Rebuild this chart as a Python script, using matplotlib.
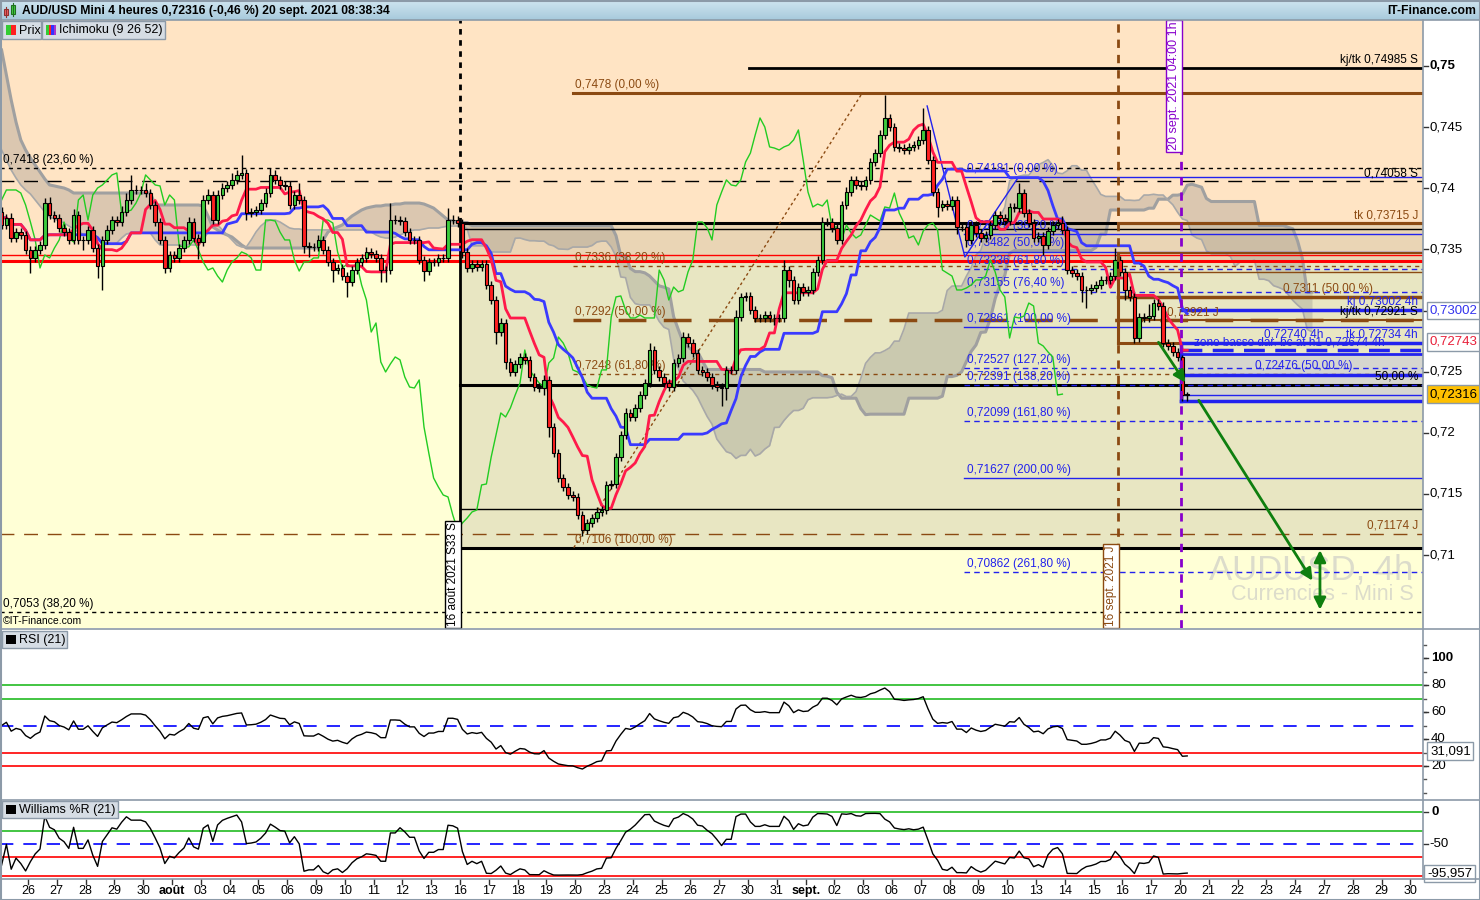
import numpy as np
import pandas as pd
import matplotlib
matplotlib.use("Agg")
import matplotlib.pyplot as plt
from matplotlib.patches import Rectangle
import matplotlib.transforms as mtransforms

plt.rcParams['font.family'] = ['Liberation Sans', 'DejaVu Sans']

# ======================= DATA =======================
# AUD/USD Mini, 4h candles (6 per session) from Fri 23 Jul 2021 to Mon 20 Sep 2021 04:00
first_open = 0.73806
close = [
    0.73700, 0.73757, 0.73593, 0.73642, 0.73618, 0.73495,   # 23 jul
    0.73430, 0.73495, 0.73536, 0.73879, 0.73781, 0.73757,   # 26
    0.73675, 0.73642, 0.73577, 0.73781, 0.73577, 0.73577,   # 27
    0.73659, 0.73511, 0.73364, 0.73577, 0.73659, 0.73740,   # 28
    0.73724, 0.73806, 0.73904, 0.73986, 0.73986, 0.73986,   # 29
    0.73961, 0.73863, 0.73724, 0.73577, 0.73348, 0.73454,   # 30
    0.73430, 0.73511, 0.73577, 0.73724, 0.73593, 0.73560,   # 02 aug
    0.73904, 0.73945, 0.73740, 0.73945, 0.74002, 0.74027,   # 03
    0.74068, 0.74109, 0.74125, 0.73798, 0.73806, 0.73822,   # 04
    0.73879, 0.73961, 0.74109, 0.74068, 0.74027, 0.74019,   # 05
    0.73863, 0.73945, 0.73904, 0.73528, 0.73520, 0.73520,   # 06
    0.73577, 0.73495, 0.73397, 0.73331, 0.73348, 0.73282,   # 09
    0.73233, 0.73331, 0.73397, 0.73430, 0.73479, 0.73462,   # 10
    0.73430, 0.73331, 0.73331, 0.73740, 0.73740, 0.73732,   # 11
    0.73642, 0.73577, 0.73577, 0.73413, 0.73323, 0.73397,   # 12
    0.73397, 0.73430, 0.73430, 0.73740, 0.73740, 0.73716,   # 13
    0.73479, 0.73348, 0.73380, 0.73356, 0.73380, 0.73209,   # 16
    0.73086, 0.72824, 0.72898, 0.72579, 0.72497, 0.72563,   # 17
    0.72620, 0.72596, 0.72456, 0.72374, 0.72366, 0.72432,   # 18
    0.72047, 0.71834, 0.71630, 0.71556, 0.71491, 0.71475,   # 19
    0.71327, 0.71205, 0.71262, 0.71303, 0.71352, 0.71368,   # 20
    0.71573, 0.71581, 0.71802, 0.71982, 0.72162, 0.72129,   # 23
    0.72203, 0.72309, 0.72407, 0.72677, 0.72514, 0.72456,   # 24
    0.72407, 0.72374, 0.72571, 0.72612, 0.72783, 0.72734,   # 25
    0.72653, 0.72514, 0.72497, 0.72456, 0.72391, 0.72374,   # 26
    0.72366, 0.72514, 0.72514, 0.72947, 0.73111, 0.73119,   # 27
    0.73004, 0.72939, 0.72939, 0.72963, 0.72939, 0.72939,   # 30
    0.72939, 0.73331, 0.73250, 0.73086, 0.73192, 0.73152,   # 31
    0.73168, 0.73315, 0.73413, 0.73724, 0.73724, 0.73675,   # 01 sep
    0.73577, 0.73863, 0.73969, 0.74068, 0.74027, 0.74019,   # 02
    0.74068, 0.74215, 0.74288, 0.74436, 0.74575, 0.74501,   # 03
    0.74338, 0.74329, 0.74313, 0.74338, 0.74354, 0.74395,   # 06
    0.74477, 0.74231, 0.73969, 0.73847, 0.73871, 0.73855,   # 07
    0.73904, 0.73683, 0.73683, 0.73577, 0.73700, 0.73634,   # 08
    0.73593, 0.73618, 0.73700, 0.73781, 0.73757, 0.73732,   # 09
    0.73847, 0.73838, 0.73961, 0.73798, 0.73716, 0.73593,   # 10
    0.73610, 0.73536, 0.73650, 0.73700, 0.73716, 0.73659,   # 13
    0.73331, 0.73307, 0.73282, 0.73168, 0.73168, 0.73184,   # 14
    0.73209, 0.73250, 0.73250, 0.73282, 0.73413, 0.73315,   # 15
    0.73168, 0.73111, 0.72775, 0.72947, 0.72939, 0.72955,   # 16
    0.73061, 0.73037, 0.72734, 0.72710, 0.72661, 0.72620,   # 17
    0.72309, 0.72316,                                       # 20
]
# wick lengths above / below the body, in pips (0.0001)
wick_up_pips = [
    4, 3, 4, 3, 3, 3,   3, 3, 3, 4, 5, 3,   3, 3, 3, 5, 3, 3,   3, 3, 3, 3, 4, 3,
    3, 5, 6, 12, 4, 3,  6, 3, 3, 3, 3, 3,   3, 3, 3, 4, 3, 3,   4, 5, 3, 4, 4, 3,
    6, 4, 15, 3, 3, 3,  3, 4, 6, 4, 3, 3,   4, 3, 10, 3, 3, 3,  4, 3, 3, 3, 3, 3,
    3, 3, 3, 3, 4, 3,   3, 3, 3, 14, 4, 3,  3, 3, 3, 3, 3, 3,   3, 3, 3, 10, 4, 3,
    3, 3, 3, 3, 3, 3,   3, 3, 4, 3, 3, 3,   3, 3, 3, 3, 3, 4,   3, 3, 3, 3, 3, 3,
    3, 3, 3, 3, 4, 3,   3, 3, 3, 3, 4, 3,   3, 3, 3, 6, 3, 3,   3, 3, 3, 3, 4, 3,
    3, 3, 3, 3, 3, 3,   3, 3, 3, 6, 3, 3,   3, 3, 3, 3, 3, 3,   3, 8, 3, 3, 3, 3,
    3, 3, 3, 4, 3, 3,   3, 3, 4, 3, 3, 3,   3, 3, 3, 4, 19, 3,  3, 3, 3, 3, 3, 3,
    18, 3, 3, 3, 3, 3,  3, 3, 3, 3, 3, 3,   3, 3, 3, 3, 3, 3,   3, 3, 8, 3, 3, 3,
    3, 3, 3, 3, 3, 6,   3, 3, 3, 3, 3, 3,   3, 3, 3, 3, 10, 3,  3, 3, 3, 3, 3, 10,
    3, 3, 3, 3, 3, 3,   2, 2,
]
wick_dn_pips = [
    3, 3, 3, 3, 3, 3,   12, 3, 3, 3, 3, 3,  3, 3, 3, 3, 3, 8,   3, 3, 10, 20, 3, 3,
    3, 3, 3, 3, 3, 3,   3, 3, 3, 3, 4, 3,   3, 3, 3, 3, 3, 14,  3, 3, 3, 3, 3, 3,
    3, 3, 3, 6, 3, 3,   3, 3, 3, 3, 3, 3,   3, 3, 3, 6, 8, 3,   3, 3, 3, 10, 3, 3,
    12, 3, 3, 3, 3, 3,  3, 10, 10, 3, 3, 3, 3, 3, 3, 3, 8, 3,   3, 3, 3, 3, 3, 3,
    5, 3, 3, 3, 3, 3,   3, 10, 3, 6, 3, 3,  3, 3, 3, 3, 3, 6,   8, 3, 3, 3, 3, 3,
    3, 5, 3, 3, 3, 3,   3, 3, 3, 3, 3, 3,   3, 3, 3, 3, 3, 3,   3, 3, 3, 3, 3, 3,
    3, 3, 3, 3, 3, 3,   15, 10, 3, 3, 3, 3, 3, 3, 3, 3, 3, 6,   3, 3, 6, 3, 3, 3,
    3, 3, 3, 3, 3, 3,   3, 3, 3, 3, 3, 3,   3, 3, 3, 3, 3, 3,   3, 3, 3, 3, 3, 3,
    3, 3, 3, 8, 3, 3,   3, 6, 3, 6, 3, 3,   3, 3, 3, 3, 3, 3,   3, 3, 3, 3, 3, 3,
    3, 8, 3, 3, 3, 3,   3, 3, 3, 10, 15, 3, 3, 3, 3, 3, 3, 3,   8, 3, 4, 3, 3, 3,
    3, 3, 3, 3, 3, 3,   5, 5,
]
# Ichimoku cloud over the first 96 bar slots, which depends on quotes older than the
# candles shown: senkou span B (thick edge) and span A (thin edge)
cloud_b_early = [
    0.75131, 0.74927, 0.74722, 0.74542, 0.74395, 0.74313, 0.74248, 0.74190, 0.74133, 0.74076,
    0.74027, 0.74019, 0.74010, 0.74002, 0.73986, 0.73961,
    0.73961, 0.73961, 0.73961, 0.73961, 0.73961, 0.73961, 0.73961, 0.73961,
    0.73961, 0.73961, 0.73961, 0.73961, 0.73961, 0.73961, 0.73961, 0.73961,
    0.73863, 0.73863, 0.73863, 0.73863, 0.73863, 0.73863, 0.73863, 0.73863, 0.73863, 0.73863,
    0.73855, 0.73773, 0.73683, 0.73659, 0.73634, 0.73618, 0.73601, 0.73569, 0.73536, 0.73511,
    0.73511, 0.73511, 0.73511, 0.73511, 0.73511, 0.73511, 0.73511, 0.73511,
    0.73511, 0.73511, 0.73511, 0.73511, 0.73511, 0.73511, 0.73511,
    0.73577, 0.73642, 0.73667, 0.73683, 0.73700, 0.73740, 0.73773, 0.73798, 0.73822, 0.73838,
    0.73847, 0.73855, 0.73855, 0.73863, 0.73863, 0.73871, 0.73871, 0.73879, 0.73879, 0.73879,
    0.73879, 0.73871, 0.73855, 0.73838, 0.73806, 0.73773, 0.73740, 0.73732, 0.73724,
]
cloud_a_early = [
    0.74313, 0.74231, 0.74149, 0.74084, 0.74027, 0.73986, 0.73953, 0.73904, 0.73855, 0.73806,
    0.73765, 0.73749, 0.73732, 0.73716, 0.73691, 0.73667, 0.73642, 0.73626, 0.73610, 0.73593,
    0.73577, 0.73560, 0.73552, 0.73544, 0.73552, 0.73593, 0.73626, 0.73634,
    0.73634, 0.73634, 0.73634, 0.73634,
    0.73577,
    0.73536, 0.73536, 0.73536, 0.73536, 0.73536, 0.73536, 0.73536, 0.73536, 0.73536,
    0.73577, 0.73642, 0.73724, 0.73700, 0.73659, 0.73618, 0.73577, 0.73536, 0.73520, 0.73520,
    0.73577, 0.73642, 0.73691, 0.73724, 0.73740, 0.73740, 0.73724, 0.73700, 0.73675,
    0.73667, 0.73667, 0.73659, 0.73659, 0.73659, 0.73659, 0.73659, 0.73659,
    0.73659, 0.73659, 0.73659, 0.73659, 0.73659, 0.73659, 0.73659, 0.73659,
    0.73642, 0.73618, 0.73601, 0.73593, 0.73593, 0.73601, 0.73618,
    0.73634, 0.73650, 0.73659, 0.73659, 0.73667, 0.73675,
    0.73675, 0.73675, 0.73683, 0.73691, 0.73691, 0.73691,
]
first_bar_day = -11 / 12          # first 4h bar of 23 Jul, in session units (26 Jul = 0)
bars_per_day = 6

day_labels = ["26", "27", "28", "29", "30", "août", "03", "04", "05", "06",
              "09", "10", "11", "12", "13", "16", "17", "18", "19", "20",
              "23", "24", "25", "26", "27", "30", "31", "sept.", "02", "03",
              "06", "07", "08", "09", "10", "13", "14", "15", "16", "17",
              "20", "21", "22", "23", "24", "27", "28", "29", "30"]
bold_day_labels = ["août", "sept."]

price_ticks = [0.75, 0.745, 0.74, 0.735, 0.73, 0.725, 0.72, 0.715, 0.71]
rsi_tick_labels = [100, 80, 60, 40, 20]
wr_tick_labels = [0, -50]
rsi_levels = [80, 70, 50, 30, 20]
rsi_level_colors = ['#22bb22', '#22bb22', 'blue', 'red', 'red']
wr_levels = [0, -30, -50, -70, -100]
wr_level_colors = ['#22bb22', '#22bb22', 'blue', 'red', 'red']
rsi_last_label = "31,091"
wr_last_label = "-95,957"
rsi_last, wr_last = 31.091, -95.957
ichimoku_periods = (9, 26, 52)
rsi_period = 21
wr_period = 21

# horizontal levels spanning the whole chart: price, color, width, dash
full_levels = [(0.74166, 'black', 1.0, (0, (3, 3))),
               (0.74058, 'black', 1.0, (0, (10, 7))),
               (0.73454, 'red', 1.0, '-'),
               (0.73405, 'red', 2.2, '-'),
               (0.71174, 'brown', 1.0, (0, (10, 7))),
               (0.70530, 'black', 1.0, (0, (3, 3)))]
full_level_labels = [(0.74166, "0,7418 (23,60 %)"), (0.70530, "0,7053 (38,20 %)")]

aug16_day = 15.0
aug16_box_levels = [(0.73712, 2.2), (0.73667, 1.0), (0.72390, 2.2), (0.71376, 1.0), (0.71060, 2.2)]

kjtk_weekly = 0.74985
kjtk_weekly_day = 25.05

brown_fib_day = 18.93
brown_fib = [(0.7478, "0,7478 (0,00 %)", '-', 2.2),
             (0.7336, "0,7336 (38,20 %)", (0, (3, 3)), 1.0),
             (0.7292, "0,7292 (50,00 %)", (0, (8, 5)), 2.5),
             (0.7248, "0,7248 (61,80 %)", (0, (3, 3)), 1.0),
             (0.7106, "0,7106 (100,00 %)", None, 0)]
brown_trend = ([18.95, 28.97], [0.7106, 0.7478])

blue_fib_day = 32.5
blue_fib = [(0.74092, "0,74181 (0,00 %)", '-'),
            (0.73628, "0,73628 (38,20 %)", '-'),
            (0.73482, "0,73482 (50,00 %)", '-'),
            (0.73336, "0,73336 (61,80 %)", (0, (4, 3))),
            (0.73155, "0,73155 (76,40 %)", (0, (4, 3))),
            (0.72861, "0,72861 (100,00 %)", '-'),
            (0.72527, "0,72527 (127,20 %)", (0, (4, 3))),
            (0.72391, "0,72391 (138,20 %)", (0, (4, 3))),
            (0.72099, "0,72099 (161,80 %)", (0, (4, 3))),
            (0.71627, "0,71627 (200,00 %)", '-'),
            (0.70862, "0,70862 (261,80 %)", (0, (4, 3)))]
blue_trend = ([31.22, 32.53, 34.37], [0.74673, 0.73438, 0.74084])

sep16_day = 37.85
sep16_levels = [(0.73715, 2.2), (0.73470, 1.5), (0.73315, 1.0), (0.73110, 2.5), (0.72921, 1.5)]
sep16_box = (0.72734, 0.73470)

sep20_day = 40.03
h4_levels = [(0.73002, 2.5, '-'), (0.72734, 2.5, '-'), (0.72674, 2.5, (0, (6, 3))),
             (0.72644, 2.0, '-'), (0.72476, 2.5, '-'), (0.72309, 1.0, '-'), (0.72260, 2.5, '-')]
h4_zone = (0.72260, 0.72644)

right_labels = [("kj/tk 0,74985 S", 0.74985, 'black'), ("0,74058 S", 0.74058, 'black'),
                ("tk 0,73715 J", 0.73715, 'brown'), ("kj 0,73002 4h", 0.73002, 'blue'),
                ("kj/tk 0,72921 S", 0.72921, 'black'), ("tk 0,72734 4h", 0.72734, 'blue'),
                ("50,00 %", 0.72390, 'black'), ("0,71174 J", 0.71174, 'brown')]
inner_labels = [("0,7311 (50,00 %)", 43.58, 0.73110, 'brown'),
                ("0,72921 J", 39.55, 0.72921, 'brown'),
                ("0,72740 4h", 42.92, 0.72734, 'blue'),
                ("zone basse dar. bc at h1 0,72674 4h", 40.49, 0.72674, 'blue'),
                ("0,72476 (50,00 %)", 42.6, 0.72476, 'blue')]

arrows = [((39.20, 0.72759), (40.24, 0.72391)), ((40.60, 0.72284), (44.65, 0.70771))]
double_arrow = (44.86, 0.71063, 0.70530)

axis_price_boxes = [("0,73002", 0.73002, '#3333ee', 'white'),
                    ("0,72743", 0.72743, '#e8203a', 'white'),
                    ("0,72316", 0.72316, 'black', '#ffc000')]

# ======================= STYLE =======================
W, H = 1480, 900
PEACH, YELLOW, OLIVE, TAN = '#ffe4c4', '#ffffd6', '#e8e6c2', '#ead5b5'
BROWN = '#8b4a12'
BLUE = '#2222ee'
FRAME = '#8c9aa8'
COLORS = {'brown': BROWN, 'blue': BLUE, 'black': 'black', 'red': 'red'}

# pixel geometry of the panels
PLOT_R = 1423
MAIN_T, MAIN_B = 20, 628
RSI_T, RSI_B = 629, 800
WR_T, WR_B = 800, 879
XMIN, XMAX = -28 / 28.8, (PLOT_R - 28) / 28.8
YMIN, YMAX = 0.704029, 0.753763
RSI_LIM = (-5.19, 121.5)
WR_LIM = (-104.7, 18.75)
RIGHT_X = 48.26      # right edge of the level labels (session units)
LBL = 8.5


def rect(x0, y0, x1, y1):
    return [x0 / W, 1 - y1 / H, (x1 - x0) / W, (y1 - y0) / H]


def clean(a):
    a.set_xticks([])
    a.set_yticks([])
    for s in a.spines.values():
        s.set_visible(False)


fig = plt.figure(figsize=(W / 100, H / 100), dpi=100)
fig.patch.set_facecolor('white')

# ---------------- computations from the candles ----------------
c = np.array(close)
o = np.r_[first_open, c[:-1]]
hi = np.maximum(o, c) + np.array(wick_up_pips) * 1e-4
lo = np.minimum(o, c) - np.array(wick_dn_pips) * 1e-4
n = len(c)
t = first_bar_day + np.arange(n) / bars_per_day
hs, lsr = pd.Series(hi), pd.Series(lo)


def mid(p):
    return ((hs.rolling(p, min_periods=1).max() + lsr.rolling(p, min_periods=1).min()) / 2).values


p1, p2, p3 = ichimoku_periods
tenkan, kijun = mid(p1), mid(p2)
span_a = (tenkan + kijun) / 2
span_b = mid(p3)
shift = p2 / bars_per_day

# cloud: early slots from the chart, then spans computed from the candles
n_early = len(cloud_b_early)
k0 = n_early - p2
cloud_t = np.r_[t[:n_early], (t + shift)[k0:]]
cloud_a = np.r_[cloud_a_early, span_a[k0:]]
cloud_b = np.r_[cloud_b_early, span_b[k0:]]

# RSI (Wilder)
d = np.diff(c, prepend=c[0])
g, l_ = np.clip(d, 0, None), np.clip(-d, 0, None)
ag, al = 0.0003, 0.0003
rsi = []
for gi, li in zip(g, l_):
    ag = (ag * (rsi_period - 1) + gi) / rsi_period
    al = (al * (rsi_period - 1) + li) / rsi_period
    rsi.append(100 - 100 / (1 + ag / al))
rsi = np.array(rsi)
hh = hs.rolling(wr_period, min_periods=1).max().values
ll = lsr.rolling(wr_period, min_periods=1).min().values
wr = -100 * (hh - c) / np.maximum(hh - ll, 1e-6)

# ---------------- main panel ----------------
ax = fig.add_axes(rect(0, MAIN_T, PLOT_R, MAIN_B))
clean(ax)
ax.set_xlim(XMIN, XMAX)
ax.set_ylim(YMIN, YMAX)
ax.set_facecolor(YELLOW)
ax.axhspan(0.73405, YMAX, color=PEACH, zorder=0, lw=0)
ax.add_patch(Rectangle((aug16_day, 0.71060), XMAX - aug16_day, 0.73405 - 0.71060, color=OLIVE, lw=0, zorder=0.1))
ax.add_patch(Rectangle((aug16_day, 0.73405), XMAX - aug16_day, 0.73712 - 0.73405, color=TAN, lw=0, zorder=0.1))

# cloud
ax.fill_between(cloud_t, cloud_a, cloud_b, color='#7f7f7f', alpha=0.28, lw=0, zorder=1)
ax.plot(cloud_t, cloud_b, color='#a0a0a0', lw=2.2, zorder=1.2)
ax.plot(cloud_t, cloud_a, color='#a8a8a8', lw=1.2, zorder=1.2)

# horizontal levels
for p, col, lw, ls in full_levels:
    ax.axhline(p, color=COLORS[col], lw=lw, ls=ls, zorder=2)
for p, txt in full_level_labels:
    ax.annotate(txt, (XMIN + 0.1, p), xytext=(0, 1.5), textcoords='offset points',
                fontsize=LBL, color='black', va='bottom', ha='left', zorder=2.5)

for p, lw in aug16_box_levels:
    ax.plot([aug16_day, XMAX], [p, p], color='black', lw=lw, zorder=2)
ax.plot([aug16_day, aug16_day], [YMIN, 0.73712], color='black', lw=2, zorder=2)
ax.plot([aug16_day, aug16_day], [0.73712, YMAX], color='black', lw=2, ls=(0, (2, 2)), zorder=2)

ax.plot([kjtk_weekly_day, XMAX], [kjtk_weekly] * 2, color='black', lw=2, zorder=2)

for p, txt, ls, lw in brown_fib:
    if ls is not None:
        ax.plot([brown_fib_day, XMAX], [p, p], color=BROWN, lw=lw, ls=ls, zorder=2)
    ax.annotate(txt, (brown_fib_day + 0.07, p), xytext=(0, 1.5), textcoords='offset points',
                fontsize=LBL, color=BROWN, va='bottom', ha='left', zorder=2.5)
ax.plot(brown_trend[0], brown_trend[1], color=BROWN, lw=1, ls=(0, (2, 2)), zorder=2)

for p, txt, ls in blue_fib:
    ax.plot([blue_fib_day, XMAX], [p, p], color=BLUE, lw=1, ls=ls, zorder=2)
    ax.annotate(txt, (blue_fib_day + 0.1, p), xytext=(0, 1.5), textcoords='offset points',
                fontsize=LBL, color=BLUE, va='bottom', ha='left', zorder=2.5)
ax.plot(blue_trend[0], blue_trend[1], color=BLUE, lw=1, zorder=2)

for p, lw in sep16_levels:
    ax.plot([sep16_day, XMAX], [p, p], color=BROWN, lw=lw, zorder=2)
ax.plot([sep16_day, sep20_day], [sep16_box[0]] * 2, color=BROWN, lw=2.2, zorder=2)
ax.plot([sep16_day, sep16_day], sep16_box, color=BROWN, lw=2.2, zorder=2)

ax.add_patch(Rectangle((sep20_day, h4_zone[0]), XMAX - sep20_day, h4_zone[1] - h4_zone[0],
                       color='#d6d6cf', lw=0, zorder=1.5))
for p, lw, ls in h4_levels:
    ax.plot([sep20_day, XMAX], [p, p], color=BLUE, lw=lw, ls=ls, zorder=2)
ax.plot([sep20_day, sep20_day], [0.72260, 0.72734], color=BLUE, lw=2.5, zorder=2)

for txt, p, col in right_labels:
    ax.annotate(txt, (RIGHT_X, p), xytext=(0, 1.5), textcoords='offset points',
                fontsize=LBL, color=COLORS[col], va='bottom', ha='right', zorder=2.5)
for txt, x, p, col in inner_labels:
    ax.annotate(txt, (x, p), xytext=(0, 1.5), textcoords='offset points',
                fontsize=LBL, color=COLORS[col], va='bottom', ha='left', zorder=2.5)

# ichimoku lines
ax.plot(t - shift, c, color='#22cc22', lw=1, zorder=3)
ax.plot(t, kijun, color='#3a3aff', lw=2, zorder=3.1)
ax.plot(t, tenkan, color='#ff1a4a', lw=2, zorder=3.2)

# candles
up = c >= o
ax.vlines(t, lo, hi, color='black', lw=1, zorder=4)
ax.bar(t, np.maximum(np.abs(c - o), 0.00003), bottom=np.minimum(o, c), width=0.13,
       color=np.where(up, '#3dcc3d', '#ff2020'), edgecolor='black', linewidth=0.8, zorder=5)

# vertical markers
vtrans = mtransforms.blended_transform_factory(ax.transData, ax.transAxes)
ax.axvline(sep16_day, color=BROWN, lw=2, ls=(0, (3, 2.5)), zorder=6)
ax.axvline(sep20_day, color='#8800cc', lw=2, ls=(0, (3, 2.5)), zorder=6)
ax.text(aug16_day - 0.03, 0.003, "16 août 2021 S33 S", rotation=90, transform=vtrans,
        ha='right', va='bottom', fontsize=LBL, zorder=7,
        bbox=dict(boxstyle='square,pad=0.15', fc='white', ec='black', lw=1))
ax.text(sep16_day - 0.03, 0.003, "16 sept. 2021 J", rotation=90, transform=vtrans,
        ha='right', va='bottom', fontsize=LBL, color=BROWN, zorder=7,
        bbox=dict(boxstyle='square,pad=0.15', fc='white', ec=BROWN, lw=1))
ax.text(sep20_day - 0.03, 0.997, "20 sept. 2021 04:00 1h", rotation=90, transform=vtrans,
        ha='right', va='top', fontsize=LBL + 0.5, color='#8800cc', zorder=7,
        bbox=dict(boxstyle='square,pad=0.15', fc='white', ec='#8800cc', lw=1))

# arrows
for (x0, y0), (x1, y1) in arrows:
    ax.annotate("", xy=(x1, y1), xytext=(x0, y0),
                arrowprops=dict(arrowstyle='-|>,head_length=0.7,head_width=0.35', color='#0f7f0f', lw=2),
                zorder=8)
ax.annotate("", xy=(double_arrow[0], double_arrow[2]), xytext=(double_arrow[0], double_arrow[1]),
            arrowprops=dict(arrowstyle='<|-|>,head_length=0.7,head_width=0.35', color='#0f7f0f', lw=2),
            zorder=8)

# watermark
ax.text(48.1, 0.70878, "AUDUSD, 4h", fontsize=25, color='#dcdccb', ha='right', va='center', zorder=0.5)
ax.text(48.1, 0.70673, "Currencies - Mini S", fontsize=15.5, color='#dcdccb', ha='right', va='center', zorder=0.5)
ax.text(0.002, 0.004, "©IT-Finance.com", transform=ax.transAxes, fontsize=7.5, ha='left', va='bottom', zorder=9)

# ---------------- RSI panel ----------------
axr = fig.add_axes(rect(0, RSI_T, PLOT_R, RSI_B))
clean(axr)
axr.set_xlim(XMIN, XMAX)
axr.set_ylim(*RSI_LIM)
for v, col in zip(rsi_levels, rsi_level_colors):
    axr.axhline(v, color=col, lw=1.2, ls=(0, (8, 6)) if col == 'blue' else '-')
axr.plot(t, rsi, color='black', lw=1)

# ---------------- Williams %R panel ----------------
axw = fig.add_axes(rect(0, WR_T, PLOT_R, WR_B))
clean(axw)
axw.set_xlim(XMIN, XMAX)
axw.set_ylim(*WR_LIM)
for v, col in zip(wr_levels, wr_level_colors):
    axw.axhline(v, color=col, lw=1.2, ls=(0, (8, 6)) if col == 'blue' else '-')
axw.plot(t, wr, color='black', lw=1)

# ---------------- x axis labels ----------------
axx = fig.add_axes(rect(0, WR_B, PLOT_R, H))
clean(axx)
axx.set_xlim(XMIN, XMAX)
axx.set_ylim(0, 1)
for k, lab in enumerate(day_labels):
    axx.plot([k, k], [1, 0.78], color='#333333', lw=1)
    axx.text(k, 0.42, lab, ha='center', va='center', fontsize=9,
             fontweight='bold' if lab in bold_day_labels else 'normal')

# ---------------- right axes ----------------
def right_axis(y0, y1, lim):
    a = fig.add_axes(rect(PLOT_R, y0, W, y1))
    clean(a)
    a.set_xlim(0, W - PLOT_R)
    a.set_ylim(*lim)
    return a


aR = right_axis(MAIN_T, MAIN_B, (YMIN, YMAX))
box_values = [b[1] for b in axis_price_boxes]
for p in price_ticks:
    lab = f"{p:.3f}".rstrip('0').replace('.', ',')
    aR.plot([0, 5], [p, p], color='#333333', lw=1)
    if min(abs(p - b) for b in box_values) > 0.0008:   # hidden behind a price box
        aR.text(7, p, lab, va='center', ha='left', fontsize=9.5,
                fontweight='bold' if p == price_ticks[0] else 'normal')
for txt, p, col, bg in axis_price_boxes:
    aR.text(7, p, txt, va='center', ha='left', fontsize=9.5, color=col,
            bbox=dict(boxstyle='square,pad=0.2', fc=bg, ec='#8c9aa8', lw=1))

aRr = right_axis(RSI_T, RSI_B, RSI_LIM)
for v in range(0, 120, 10):
    aRr.plot([0, 3], [v, v], color='#555555', lw=1)
for v in rsi_tick_labels:
    aRr.plot([0, 5], [v, v], color='#333333', lw=1)
    aRr.text(8, v, str(v), va='center', ha='left', fontsize=9.5,
             fontweight='bold' if v == 100 else 'normal')
aRr.text(7, rsi_last, rsi_last_label, va='center', ha='left', fontsize=9.5,
         bbox=dict(boxstyle='square,pad=0.2', fc='white', ec='#8c9aa8', lw=1))

aRw = right_axis(WR_T, WR_B, WR_LIM)
for v in wr_tick_labels:
    aRw.plot([0, 5], [v, v], color='#333333', lw=1)
    aRw.text(8 if v == 0 else 6, v, str(v), va='center', ha='left', fontsize=9.5,
             fontweight='bold' if v == 0 else 'normal')
aRw.text(4, wr_last, wr_last_label, va='center', ha='left', fontsize=9.5,
         bbox=dict(boxstyle='square,pad=0.2', fc='white', ec='#8c9aa8', lw=1))

# ---------------- overlay: title bar, legends, frame ----------------
ov = fig.add_axes([0, 0, 1, 1], zorder=20)
ov.set_xlim(0, W)
ov.set_ylim(H, 0)
ov.axis('off')
grad = np.linspace(0, 1, 20)[:, None]
ov.imshow(grad, extent=(0, W, 20, 0), cmap=matplotlib.colors.LinearSegmentedColormap.from_list(
    'tb', ['#cfe5f0', '#a8cadc']), aspect='auto', zorder=0)
ov.set_xlim(0, W)
ov.set_ylim(H, 0)
ov.text(22, 11, "AUD/USD Mini 4 heures 0,72316 (-0,46 %) 20 sept. 2021 08:38:34",
        fontsize=8.7, fontweight='bold', va='center', ha='left')
ov.text(1476, 11, "IT-Finance.com", fontsize=8.7, fontweight='bold', va='center', ha='right')
# small candle icon in the title bar
ov.add_patch(Rectangle((4, 9), 4, 6, fc='#f06060', ec='#903030', lw=0.8))
ov.add_patch(Rectangle((11, 5), 4, 9, fc='#40d040', ec='#207020', lw=0.8))
ov.plot([6, 6], [7, 17], color='#903030', lw=0.8)
ov.plot([13, 13], [3, 16], color='#207020', lw=0.8)


def legend_box(x0, y0, x1, y1, label, icon_colors):
    ov.add_patch(Rectangle((x0, y0), x1 - x0, y1 - y0, fc='#d6dde4', ec='#8c9aa8', lw=1, zorder=2))
    w = 10 / len(icon_colors)
    for i, col in enumerate(icon_colors):
        ov.add_patch(Rectangle((x0 + 4 + i * w, y0 + 4), w, y1 - y0 - 8, fc=col, lw=0, zorder=3))
    ov.text(x0 + 17, (y0 + y1) / 2 + 0.5, label, fontsize=9, va='center', ha='left', zorder=3)


legend_box(2, 21, 41, 39, "Prix", ['#33cc33', '#ff2020'])
legend_box(42, 21, 165, 39, "Ichimoku (9 26 52)", ['#33cc33', '#ff2020', '#3333ff', '#aa33cc'])
legend_box(2, 631, 67, 648, "RSI (21)", ['black'])
legend_box(2, 801, 118, 818, "Williams %R (21)", ['black'])

for y in (20, MAIN_B + 0.5, RSI_B, WR_B):
    ov.plot([0, W], [y, y], color=FRAME, lw=1.2)
ov.plot([PLOT_R, PLOT_R], [20, WR_B], color=FRAME, lw=1.2)
ov.add_patch(Rectangle((0.5, 0.5), W - 1, H - 1, fill=False, ec=FRAME, lw=1.5))

fig.savefig("out.png", dpi=100)
